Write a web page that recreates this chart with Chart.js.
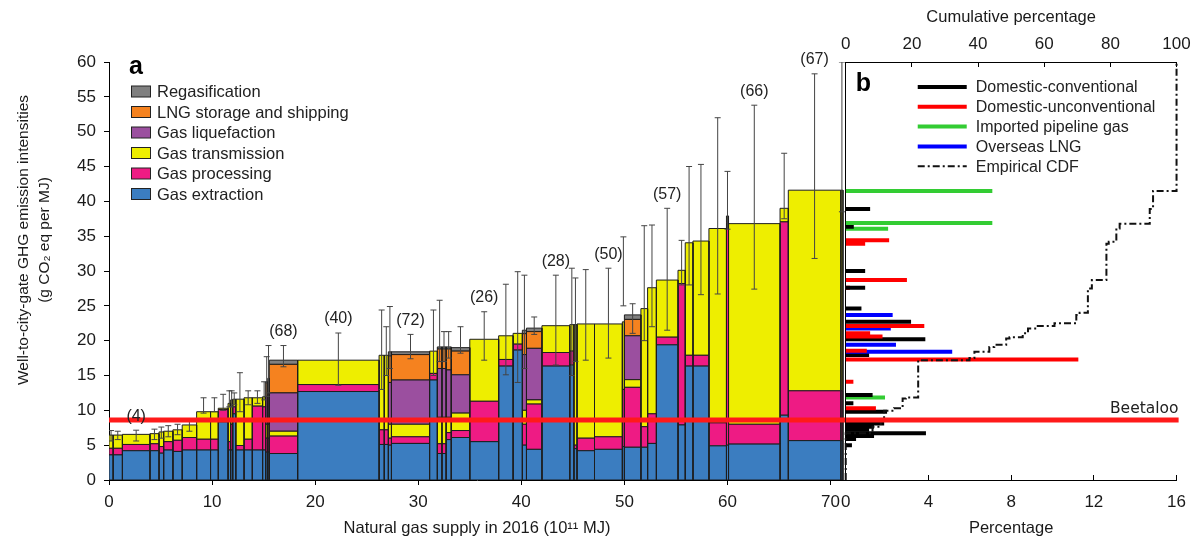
<!DOCTYPE html>
<html lang="en">
<head>
<meta charset="UTF-8" />
<title>Well-to-city-gate GHG emission intensities</title>
<script src="https://cdn.jsdelivr.net/npm/chart.js@4.4.0/dist/chart.umd.min.js"></script>
<style>
  body { margin: 0; padding: 0; background: #fff; overflow: hidden; }
  .wrap { position: relative; width: 1200px; height: 550px; overflow: hidden; }
  .panel { position: absolute; top: 0; height: 550px; }
  #boxA { left: 0; width: 850px; }
  #boxB { left: 824px; width: 379px; }
</style>
</head>
<body>
<div class="wrap">
  <div class="panel" id="boxA"><canvas id="chartA"></canvas></div>
  <div class="panel" id="boxB"><canvas id="chartB"></canvas></div>
</div>
<script>
// ---- panel a: supply (10^11 MJ) and stage emissions (g CO2 eq per MJ) per supply chain
const supply = [0.4, 0.9, 2.67, 0.88, 0.45, 0.9, 0.9, 1.4, 1.35, 0.75,
  0.95, 0.25, 0.2, 0.3, 0.8, 0.8, 1.0, 0.3, 0.2, 0.15,
  2.75, 7.9, 0.5, 0.4, 0.3, 3.7, 0.75, 0.45, 0.4, 0.5,
  1.8, 2.8, 1.4, 0.9, 0.4, 1.5, 2.7, 0.4, 0.3, 1.7,
  2.7, 0.2, 1.6, 0.65, 0.85, 2.1, 0.7, 0.75, 1.55, 1.7,
  0.2, 5.0, 0.8, 5.1, 0.2]
const extraction = [3.6, 3.6, 4.2, 4.2, 3.85, 4.3, 4.1, 4.3, 4.3, 4.3,
  8.35, 4.3, 4.3, 9.5, 4.3, 4.3, 4.3, 4.3, 4.0, 4.0,
  3.8, 12.7, 5.1, 5.1, 5.0, 5.25, 14.35, 3.8, 3.8, 5.8,
  6.1, 5.5, 16.35, 18.65, 5.0, 4.4, 16.35, 16.5, 4.5, 4.2,
  4.4, 4.8, 4.7, 4.7, 5.25, 19.4, 7.9, 16.35, 16.35, 4.9,
  5.0, 5.15, 9.3, 5.65, 5.65]
const processing = [0.95, 0.95, 0.9, 1.0, 0.95, 1.2, 1.6, 1.8, 1.55, 1.55,
  1.75, 1.2, 3.7, 1.0, 0.65, 1.55, 6.3, 6.2, 2.0, 2.0,
  2.5, 1.0, 2.1, 2.1, 1.0, 0.95, 0.95, 1.4, 1.4, 1.0,
  1.0, 5.8, 0.95, 0.85, 3.0, 6.5, 1.95, 2.0, 0.5, 1.8,
  1.8, 8.2, 8.6, 2.95, 4.25, 1.1, 20.3, 1.55, 1.55, 3.3,
  32.0, 2.85, 27.75, 7.15, 7.15]
const transmission = [1.9, 1.9, 1.45, 1.45, 2.1, 1.5, 1.5, 1.8, 3.95, 3.95,
  0.2, 5.5, 3.5, 1.1, 6.65, 5.95, 1.2, 1.45, 2.0, 2.0,
  0.7, 3.5, 10.7, 10.7, 2.0, 1.8, 3.2, 3.8, 3.8, 2.2,
  2.5, 8.9, 3.4, 1.55, 2.0, 0.6, 3.85, 3.8, 17.3, 16.4,
  16.2, 9.7, 1.1, 16.95, 18.1, 8.2, 1.9, 16.15, 16.4, 27.9,
  0.9, 28.8, 1.95, 28.8, 28.8]
const liquefaction = [0, 0, 0, 0, 0, 0, 0, 0, 0, 0,
  0, 0, 0, 0, 0, 0, 0, 0, 4.0, 4.5,
  5.5, 0, 0, 0, 6.0, 6.35, 0, 7.0, 7.0, 6.8,
  5.5, 0, 0, 0, 8.0, 7.4, 0, 0, 0, 0,
  0, 0, 6.3, 0, 0, 0, 0, 0, 0, 0,
  0, 0, 0, 0, 0]
const storage = [0, 0, 0, 0, 0, 0, 0, 0, 0, 0,
  0, 0, 0, 0, 0, 0, 0, 0, 1.9, 1.8,
  4.1, 0, 0, 0, 3.8, 3.65, 0, 2.8, 2.8, 3.0,
  3.4, 0, 0, 0, 3.0, 2.4, 0, 0, 0, 0,
  0, 0, 2.35, 0, 0, 0, 0, 0, 0, 0,
  0, 0, 0, 0, 0]
const regas = [0, 0, 0, 0, 0, 0, 0, 0, 0, 0,
  0, 0, 0, 0, 0, 0, 0, 0, 0.2, 0.3,
  0.6, 0, 0, 0, 0.6, 0.4, 0, 0.3, 0.3, 0.3,
  0.5, 0, 0, 0, 0.5, 0.5, 0, 0, 0, 0,
  0, 0, 0.65, 0, 0, 0, 0, 0, 0, 0,
  0, 0, 0, 0, 0]
const errLow = [5.6, 5.8, 5.6, 5.8, 6.0, 6.2, 6.5, 7.0, 9.6, 9.8,
  10.0, 10.5, 10.5, 10.8, 9.8, 10.8, 11.0, 11.5, 12.0, 12.5,
  16.25, 13.6, 13.0, 15.0, 16.0, 17.4, 15.0, 17.0, 17.0, 17.5,
  18.2, 17.2, 15.1, 14.0, 16.0, 20.9, 16.5, 15.0, 17.0, 17.2,
  17.5, 25.0, 21.05, 20.0, 22.0, 21.5, 28.0, 28.0, 26.6, 26.7,
  36.0, 27.4, 37.5, 31.8, 38.5]
const errHigh = [7.1, 7.0, 7.15, 7.3, 7.6, 7.8, 8.0, 8.8, 11.8, 11.8,
  12.3, 12.8, 12.8, 12.5, 15.4, 12.8, 12.8, 14.1, 17.7, 19.3,
  19.3, 21.1, 24.4, 22.0, 24.9, 20.9, 24.4, 25.8, 21.3, 21.3,
  22.0, 24.15, 28.1, 29.9, 29.4, 23.4, 29.4, 30.4, 29.0, 30.2,
  30.4, 34.9, 25.3, 36.5, 36.6, 39.0, 34.4, 45.0, 45.3, 52.0,
  44.3, 53.8, 46.9, 58.3, 60.0]
const labelBars = [2, 20, 21, 25, 31, 36, 40, 45, 51, 53]
const labelText = ['(4)', '(68)', '(40)', '(72)', '(26)', '(28)', '(50)', '(57)', '(66)', '(67)']
const beetaloo = 8.6

// ---- panel b: share of supply at each intensity, and the empirical CDF
const pbY = [41.5, 38.9, 36.9, 36.35, 36.05, 34.4, 33.9, 30.0, 28.7, 27.6,
  27.6, 24.6, 23.7, 23.7, 22.7, 22.1, 21.75, 21.05, 20.6, 20.2,
  19.4, 18.55, 18.4, 17.95, 17.3, 14.1, 12.2, 11.85, 11.0, 10.3,
  9.8, 8.1, 7.65, 7.2, 6.7, 6.3, 5.9, 5.0]
const pbPct = [7.09, 1.18, 7.09, 0.39, 2.05, 2.1, 0.94, 0.94, 2.96, 0.94,
  0.2, 0.76, 2.27, 0.2, 3.16, 3.8, 2.18, 1.18, 1.78, 3.85,
  2.43, 1.02, 5.15, 1.13, 11.25, 0.37, 1.3, 1.9, 0.37, 1.46,
  2.0, 1.86, 1.37, 1.13, 3.88, 1.37, 0.5, 0.3]
const pbSource = ['imported', 'conv', 'imported', 'conv', 'imported', 'unconv', 'unconv', 'conv', 'unconv', 'conv',
  'unconv', 'conv', 'lng', 'unconv', 'conv', 'unconv', 'lng', 'unconv', 'unconv', 'conv',
  'lng', 'unconv', 'lng', 'conv', 'unconv', 'unconv', 'conv', 'imported', 'conv', 'unconv',
  'conv', 'conv', 'conv', 'conv', 'conv', 'conv', 'conv', 'conv']
const cdfPct = [0, 8.1, 10.6, 11.6, 14.6, 17.2, 18.2, 21.9, 37.4, 38.9,
  43.4, 44.9, 48.5, 49.5, 53.5, 55.1, 57.6, 63.1, 69.7, 70.7,
  73.2, 74.4, 78.8, 79.5, 81.8, 82.8, 91.9, 92.9, 100, 100]
const cdfY = [0, 6.7, 7.65, 8.6, 9.95, 10.3, 11.7, 11.85, 17.2, 17.5,
  18.4, 19.1, 19.4, 20.3, 20.5, 21.05, 21.75, 22.1, 22.5, 23.7,
  24.0, 27.5, 28.7, 33.9, 34.2, 36.1, 36.8, 38.9, 41.5, 60]

const stageNames = ['Gas extraction', 'Gas processing', 'Gas transmission', 'Gas liquefaction', 'LNG storage and shipping', 'Regasification']
const stageColors = ['#3b7dc0', '#ee1b84', '#eeee00', '#9b4f9f', '#f5821f', '#808080']
const stageValues = [extraction, processing, transmission, liquefaction, storage, regas]
const sourceNames = { conv: 'Domestic-conventional', unconv: 'Domestic-unconventional', imported: 'Imported pipeline gas', lng: 'Overseas LNG' }
const sourceColors = { conv: '#000000', unconv: '#ff0000', imported: '#33cc33', lng: '#0000ff' }

Chart.defaults.font.family = '"Liberation Sans", Arial, sans-serif'
Chart.defaults.color = '#1a1a1a'

const X_MAX = 71.4
const left = []
let acc = 0
supply.forEach((w) => {
  left.push(acc)
  acc += w
})

// stacked segments as closed rectangles in data space
const rectSets = []
supply.forEach((w, i) => {
  let base = 0
  stageValues.forEach((vals, s) => {
    const h = vals[i]
    if (h <= 0) return
    const x0 = left[i]
    const x1 = left[i] + w
    const top = base + h
    rectSets.push({
      data: [{ x: x0, y: base }, { x: x0, y: top }, { x: x1, y: top }, { x: x1, y: base }, { x: x0, y: base }],
      showLine: true,
      fill: 'shape',
      backgroundColor: stageColors[s],
      borderColor: '#1e1e1e',
      borderWidth: 1,
      pointRadius: 0,
      order: 3,
    })
    base = top
  })
})

const errSets = supply.map((w, i) => {
  const cx = left[i] + w / 2
  return {
    data: [{ x: cx, y: errLow[i] }, { x: cx, y: errHigh[i] }],
    showLine: true,
    borderColor: '#444',
    borderWidth: 1,
    pointStyle: 'line',
    pointRadius: 3,
    pointBorderColor: '#444',
    pointBorderWidth: 1,
    order: 2,
  }
})

const redLineA = {
  data: [{ x: 0, y: beetaloo }, { x: X_MAX, y: beetaloo }],
  showLine: true,
  borderColor: '#ff1a1a',
  borderWidth: 5,
  pointRadius: 0,
  order: 0,
}

const panelAExtras = {
  id: 'panelAExtras',
  afterDraw(chart) {
    const { ctx, scales: { x, y } } = chart
    ctx.save()
    ctx.fillStyle = '#222'
    ctx.textAlign = 'center'
    ctx.textBaseline = 'middle'
    ctx.font = '16px "Liberation Sans", Arial, sans-serif'
    labelBars.forEach((i, k) => {
      const cx = x.getPixelForValue(left[i] + supply[i] / 2)
      ctx.fillText(labelText[k], cx, y.getPixelForValue(errHigh[i]) - 14)
    })

    // y axis title, two lines
    ctx.save()
    ctx.translate(0, 240)
    ctx.rotate(-Math.PI / 2)
    ctx.font = '15.5px "Liberation Sans", Arial, sans-serif'
    ctx.fillStyle = '#1a1a1a'
    ctx.fillText('Well-to-city-gate GHG emission intensities', 0, 24)
    ctx.fillText('(g CO₂ eq per MJ)', 0, 45)
    ctx.restore()

    ctx.textAlign = 'left'
    ctx.fillStyle = '#000'
    ctx.font = 'bold 25px "Liberation Sans", Arial, sans-serif'
    ctx.fillText('a', 129, 67)

    // legend, top entry first
    ctx.font = '16.5px "Liberation Sans", Arial, sans-serif'
    for (let k = 0; k < 6; k++) {
      const s = 5 - k
      const cy = 91.5 + k * 20.5
      ctx.fillStyle = stageColors[s]
      ctx.fillRect(131.5, cy - 5.5, 19, 11)
      ctx.strokeStyle = '#222'
      ctx.lineWidth = 1
      ctx.strokeRect(131.5, cy - 5.5, 19, 11)
      ctx.fillStyle = '#222'
      ctx.fillText(stageNames[s], 157, cy + 1)
    }
    ctx.restore()
  },
}

new Chart(document.getElementById('chartA'), {
  type: 'scatter',
  data: { datasets: [redLineA, ...errSets, ...rectSets] },
  options: {
    animation: false,
    responsive: true,
    maintainAspectRatio: false,
    events: [],
    layout: { padding: { top: 62, right: 5, left: 0, bottom: 0 } },
    plugins: { legend: { display: false }, tooltip: { enabled: false } },
    scales: {
      x: {
        type: 'linear',
        min: 0,
        max: X_MAX,
        afterFit: (s) => { s.height = 70 },
        ticks: { stepSize: 10, includeBounds: false, padding: 7, font: { size: 17 }, color: '#1a1a1a' },
        grid: { drawOnChartArea: false, tickLength: 5, color: '#000' },
        border: { color: '#000', width: 1 },
        title: {
          display: true,
          text: 'Natural gas supply in 2016 (10¹¹ MJ)',
          font: { size: 16.5 },
          padding: { top: 0, bottom: 12 },
          color: '#1a1a1a',
        },
      },
      y: {
        min: 0,
        max: 60,
        afterFit: (s) => { s.width = 109 },
        ticks: { stepSize: 5, padding: 8, font: { size: 17 }, color: '#1a1a1a' },
        grid: { drawOnChartArea: false, tickLength: 5, color: '#000' },
        border: { color: '#000', width: 1 },
      },
    },
  },
  plugins: [panelAExtras],
})

// ---- panel b
const barSets = pbY.map((v, i) => ({
  data: [{ x: 0, y: v }, { x: pbPct[i], y: v }],
  showLine: true,
  borderColor: sourceColors[pbSource[i]],
  borderWidth: 4,
  borderCapStyle: 'butt',
  pointRadius: 0,
  xAxisID: 'x',
  order: 2,
}))

const cdfSet = {
  data: cdfPct.map((p, i) => ({ x: p, y: cdfY[i] })),
  showLine: true,
  stepped: 'after',
  borderColor: '#111',
  borderWidth: 2,
  borderDash: [7, 3, 2, 3],
  pointRadius: 0,
  xAxisID: 'x2',
  clip: false,
  order: 1,
}

const redLineB = {
  data: [{ x: 0, y: beetaloo }, { x: 16.1, y: beetaloo }],
  showLine: true,
  borderColor: '#ff1a1a',
  borderWidth: 5,
  pointRadius: 0,
  xAxisID: 'x',
  clip: false,
  order: 0,
}

const panelBExtras = {
  id: 'panelBExtras',
  afterDraw(chart) {
    const { ctx, chartArea, scales: { y } } = chart
    ctx.save()
    ctx.textBaseline = 'middle'
    ctx.textAlign = 'left'
    ctx.fillStyle = '#000'
    ctx.font = 'bold 25px "Liberation Sans", Arial, sans-serif'
    ctx.fillText('b', chartArea.left + 10, 84)

    const lx = chartArea.left + 72
    const keys = ['conv', 'unconv', 'imported', 'lng']
    ctx.font = '16px "Liberation Sans", Arial, sans-serif'
    keys.forEach((k, r) => {
      const cy = 87 + r * 19.8
      ctx.strokeStyle = sourceColors[k]
      ctx.lineWidth = 4
      ctx.beginPath()
      ctx.moveTo(lx, cy)
      ctx.lineTo(lx + 49, cy)
      ctx.stroke()
      ctx.fillStyle = '#222'
      ctx.fillText(sourceNames[k], lx + 58, cy + 1)
    })
    const cy = 87 + 4 * 19.8
    ctx.strokeStyle = '#111'
    ctx.lineWidth = 2
    ctx.setLineDash([7, 3, 2, 3])
    ctx.beginPath()
    ctx.moveTo(lx, cy)
    ctx.lineTo(lx + 49, cy)
    ctx.stroke()
    ctx.setLineDash([])
    ctx.fillText('Empirical CDF', lx + 58, cy + 1)

    ctx.textAlign = 'right'
    ctx.font = '15.5px "DejaVu Sans", sans-serif'
    ctx.fillStyle = '#222'
    ctx.fillText('Beetaloo', chartArea.right + 2, y.getPixelForValue(beetaloo) - 11)
    ctx.restore()
  },
}

new Chart(document.getElementById('chartB'), {
  type: 'scatter',
  data: { datasets: [redLineB, cdfSet, ...barSets] },
  options: {
    animation: false,
    responsive: true,
    maintainAspectRatio: false,
    events: [],
    layout: { padding: { top: 0, right: 22, left: 0, bottom: 0 } },
    plugins: { legend: { display: false }, tooltip: { enabled: false } },
    scales: {
      x: {
        type: 'linear',
        position: 'bottom',
        min: 0,
        max: 16,
        afterFit: (s) => { s.height = 70 },
        ticks: { stepSize: 4, padding: 17, font: { size: 17 }, color: '#1a1a1a' },
        grid: { drawOnChartArea: false, tickLength: -5, color: '#000' },
        border: { color: '#000', width: 1 },
        title: {
          display: true,
          text: 'Percentage',
          font: { size: 16.5 },
          padding: { top: 0, bottom: 12 },
          color: '#1a1a1a',
        },
      },
      x2: {
        type: 'linear',
        position: 'top',
        min: 0,
        max: 100,
        afterFit: (s) => { s.height = 62 },
        ticks: { stepSize: 20, padding: 12, font: { size: 17 }, color: '#1a1a1a' },
        grid: { drawOnChartArea: false, tickLength: -5, color: '#000' },
        border: { color: '#000', width: 1 },
        title: {
          display: true,
          text: 'Cumulative percentage',
          font: { size: 16.5 },
          padding: { top: 8, bottom: 0 },
          color: '#1a1a1a',
        },
      },
      y: {
        min: 0,
        max: 60,
        afterFit: (s) => { s.width = 11 },
        ticks: { display: false },
        grid: { drawOnChartArea: false, drawTicks: false, color: '#000' },
        border: { color: '#000', width: 1 },
      },
    },
  },
  plugins: [panelBExtras],
})
</script>
</body>
</html>
